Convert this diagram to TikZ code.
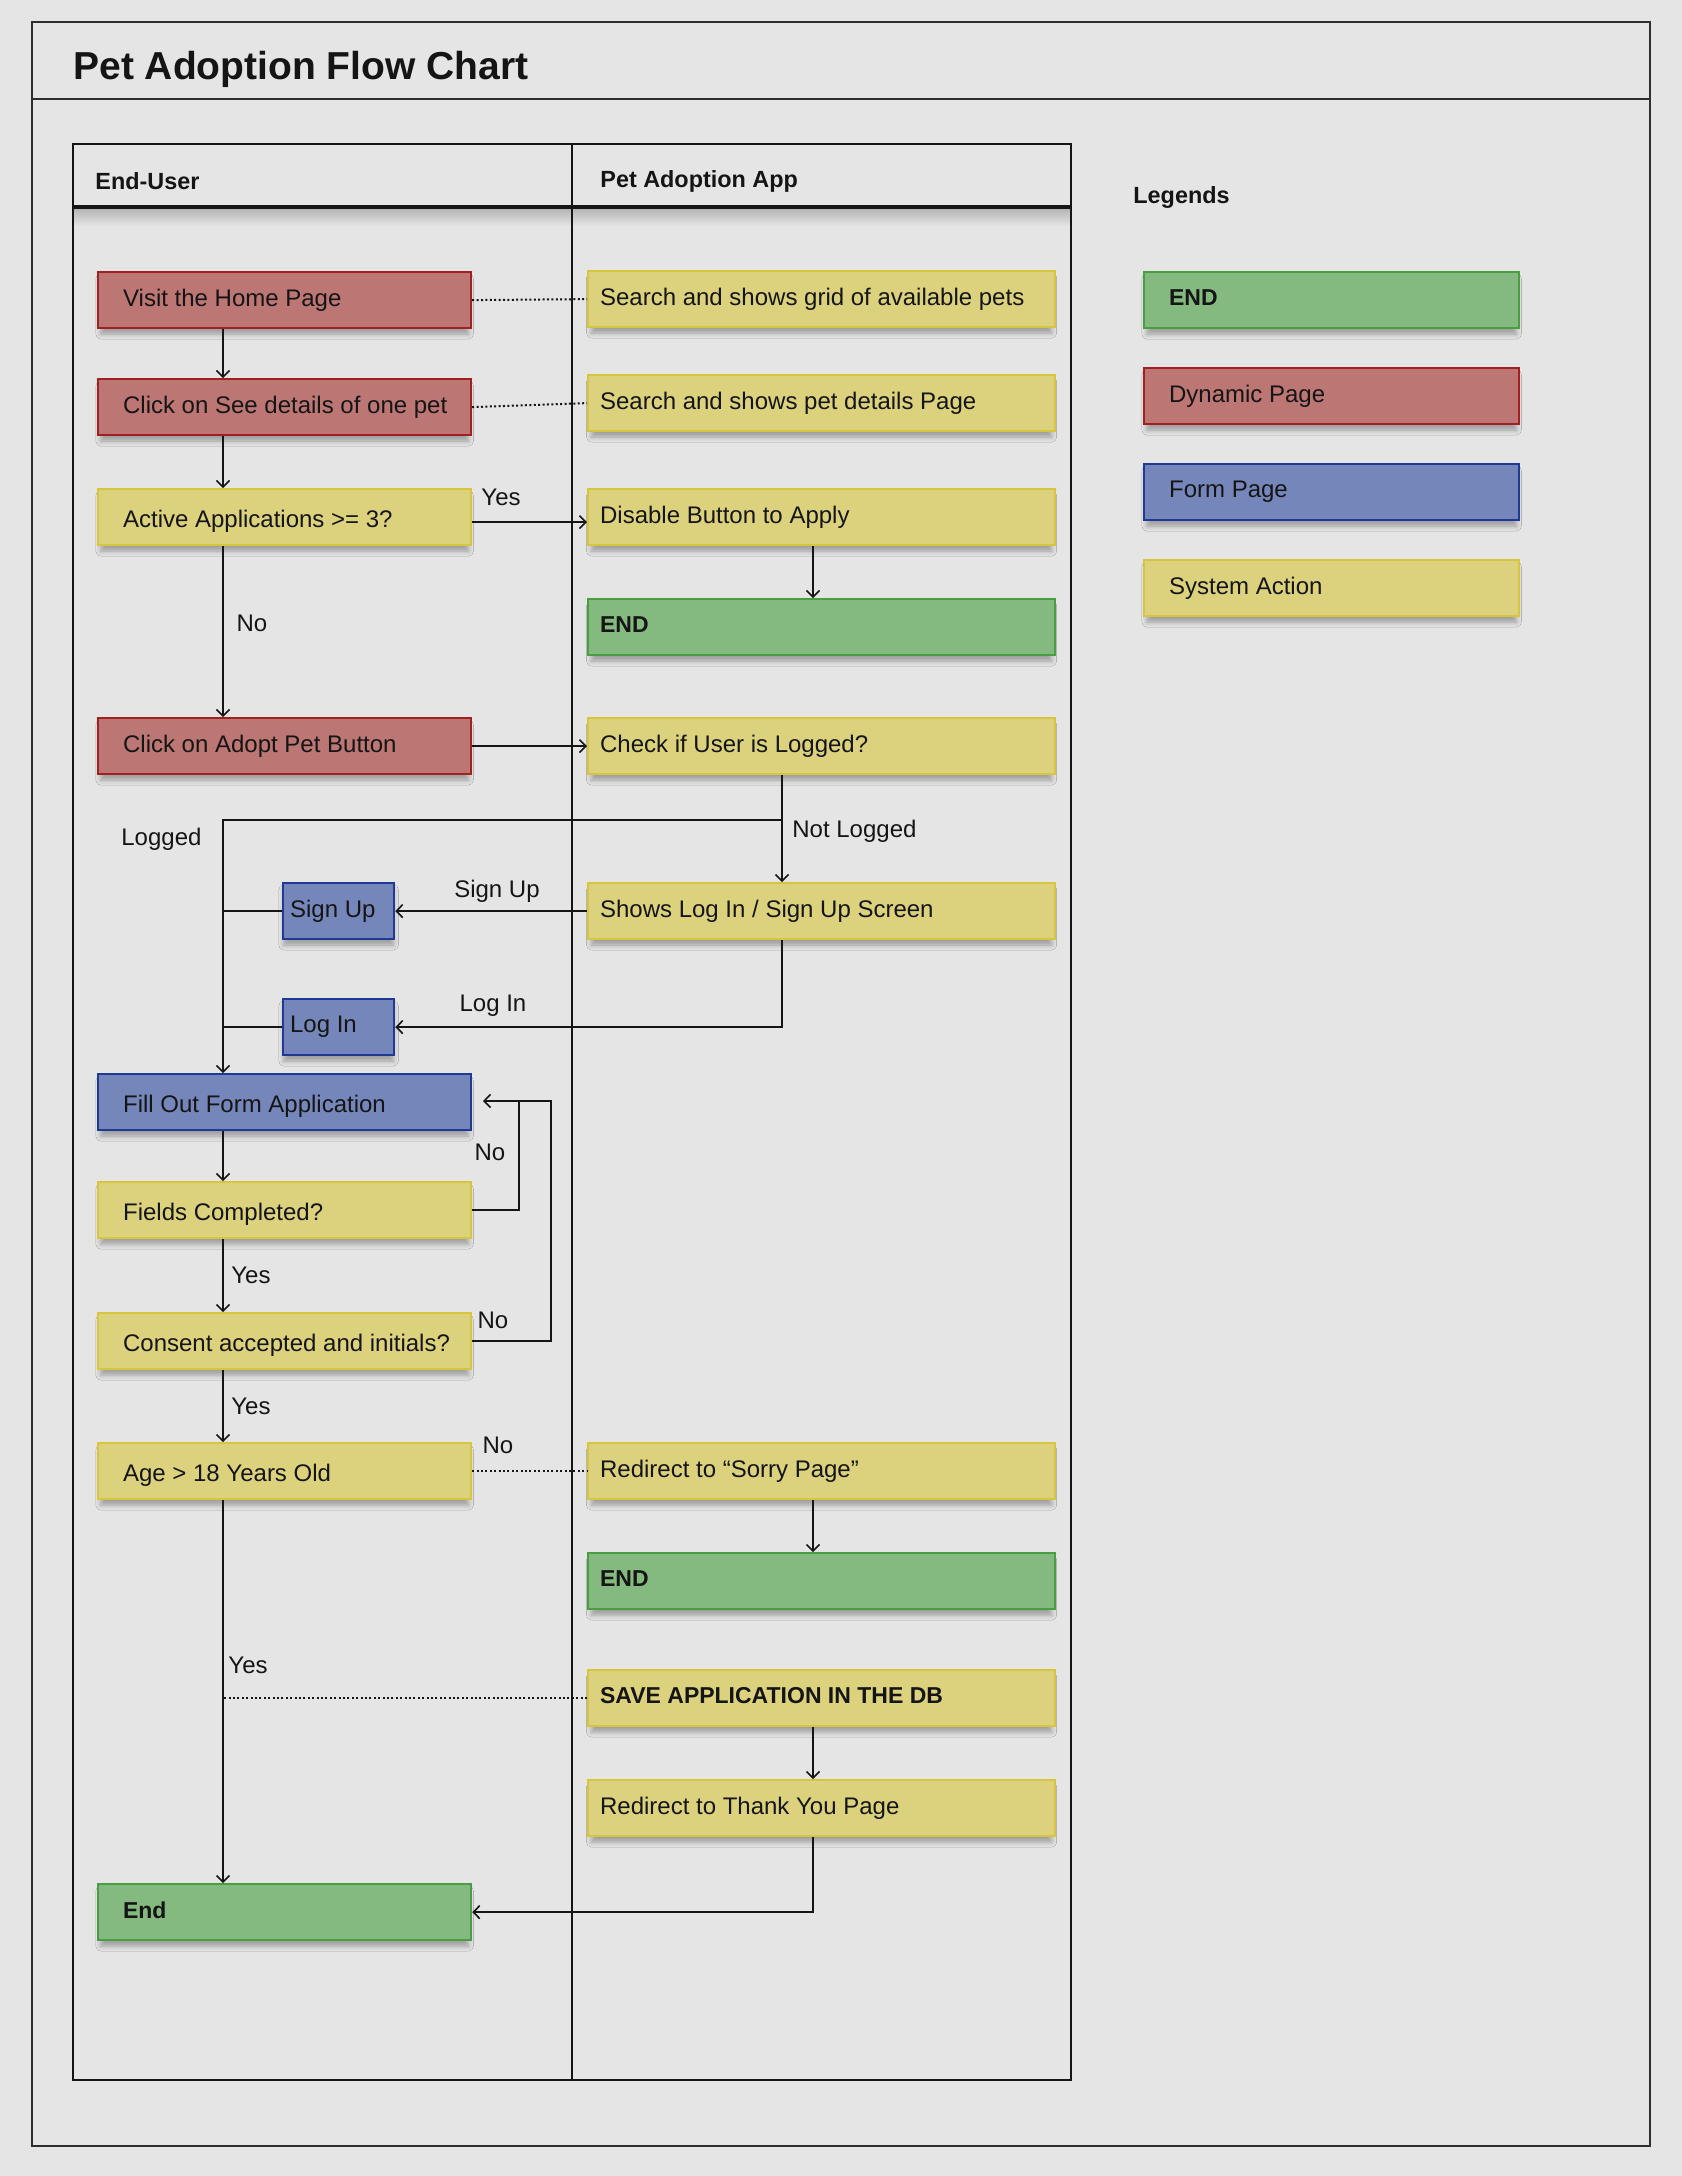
\documentclass[tikz,border=0pt]{standalone}
\usepackage{fontspec}
\setmainfont{Liberation Sans}
\usetikzlibrary{arrows.meta,shadows.blur,calc}

\definecolor{bg}{HTML}{E5E5E5}
\definecolor{ink}{HTML}{151515}
\definecolor{framec}{HTML}{2E2E2E}
\definecolor{redfill}{HTML}{BC7673}
\definecolor{redline}{HTML}{A41F1F}
\definecolor{yelfill}{HTML}{DCD27E}
\definecolor{yelline}{HTML}{D8C53E}
\definecolor{grnfill}{HTML}{84BA80}
\definecolor{grnline}{HTML}{4A9E42}
\definecolor{blufill}{HTML}{7587BA}
\definecolor{bluline}{HTML}{1F3A96}

\newcommand\fBody{\fontsize{12}{14}\selectfont}
\newcommand\fBold{\fontsize{11.5}{14}\selectfont\bfseries}
\newcommand\fHead{\fontsize{11.7}{14}\selectfont\bfseries}
\newcommand\fTitle{\fontsize{19.5}{23}\selectfont\bfseries}

\tikzset{
  basebox/.style={draw, line width=1.1pt, anchor=north west, minimum height=28pt,
    inner ysep=0pt, font=\fBody, text=ink,
    blur shadow={shadow xshift=0pt, shadow yshift=-3.2pt, shadow scale=0.985,
      shadow blur radius=2.6pt, shadow opacity=32}},
  lanebox/.style={basebox, inner xsep=12.5pt, text height=11.2pt, text depth=1pt,
    execute at begin node={\hbox to 161.5pt\bgroup},
    execute at end node={\hss\egroup}},
  midtext/.style={text height=8.8pt, text depth=2.6pt},
  appbox/.style={basebox, inner xsep=6pt,
    execute at begin node={\hbox to 221.5pt\bgroup\vphantom{Ag}},
    execute at end node={\hss\egroup}},
  keybox/.style={basebox, inner xsep=12.5pt,
    execute at begin node={\hbox to 162.5pt\bgroup\vphantom{Ag}},
    execute at end node={\hss\egroup}},
  smallbox/.style={basebox, inner xsep=3.5pt,
    execute at begin node={\hbox to 48.5pt\bgroup\vphantom{Ag}},
    execute at end node={\hss\egroup}},
  dyn/.style={fill=redfill, draw=redline},
  sys/.style={fill=yelfill, draw=yelline},
  fin/.style={fill=grnfill, draw=grnline, font=\fBold},
  form/.style={fill=blufill, draw=bluline},
  conn/.style={draw=ink, line width=0.8pt},
  arr/.style={conn, -{Straight Barb[length=3.2pt,width=6.5pt,line width=0.8pt]}},
  dots/.style={draw=ink, line width=1pt, dash pattern=on 1pt off 1.2pt},
  lbl/.style={font=\fBody, text=ink, inner sep=0pt},
}

\begin{document}
\begin{tikzpicture}[x=0.5pt, y=-0.5pt]
\useasboundingbox (0,0) rectangle (1682,2176);
\fill[bg] (0,0) rectangle (1682,2176);

% outer frame and title bar
\draw[framec, line width=1.1pt] (32,22) rectangle (1650,2146);
\draw[framec, line width=1.1pt] (32,99) -- (1650,99);
\node[anchor=base west, font=\fTitle, text=ink, inner sep=0pt] (title) at (73,79) {Pet Adoption Flow Chart};

% swimlanes
\shade[top color=black!22!bg, bottom color=bg] (74,208) rectangle (1070,226);
\draw[ink, line width=0.9pt] (73,144) rectangle (1071,2080);
\draw[ink, line width=0.9pt] (572,144) -- (572,2080);
\draw[ink, line width=2.2pt] (73,207) -- (1071,207);
\node[anchor=west, font=\fHead, text=ink, inner sep=0pt] (laneA) at (95,181) {End-User};
\node[anchor=west, font=\fHead, text=ink, inner sep=0pt] (laneB) at (600,181) {Pet Adoption App};

% end-user lane
\node[lanebox, dyn, midtext]  (home)  at (97,271)  {Visit the Home Page};
\node[lanebox, dyn, midtext]  (det)   at (97,378)  {Click on See details of one pet};
\node[lanebox, sys]  (act)   at (97,488)  {Active Applications >= 3?};
\node[lanebox, dyn, midtext]  (adopt) at (97,717)  {Click on Adopt Pet Button};
\node[smallbox, form] (su)   at (282,882) {Sign Up};
\node[smallbox, form] (li)   at (282,998) {Log In};
\node[lanebox, form] (fill)  at (97,1073) {Fill Out Form Application};
\node[lanebox, sys]  (fld)   at (97,1181) {Fields Completed?};
\node[lanebox, sys]  (cons)  at (97,1312) {Consent accepted and initials?};
\node[lanebox, sys]  (age)   at (97,1442) {Age > 18 Years Old};
\node[lanebox, fin, midtext]  (endL)  at (97,1883) {End};

% app lane
\node[appbox, sys] (grid)  at (587,270)  {Search and shows grid of available pets};
\node[appbox, sys] (petd)  at (587,374)  {Search and shows pet details Page};
\node[appbox, sys] (dis)   at (587,488)  {Disable Button to Apply};
\node[appbox, fin] (end1)  at (587,598)  {END};
\node[appbox, sys] (chk)   at (587,717)  {Check if User is Logged?};
\node[appbox, sys] (shows) at (587,882)  {Shows Log In / Sign Up Screen};
\node[appbox, sys] (sorry) at (587,1442) {Redirect to “Sorry Page”};
\node[appbox, fin] (end2)  at (587,1552) {END};
\node[appbox, sys, font=\fBold] (save) at (587,1669) {SAVE APPLICATION IN THE DB};
\node[appbox, sys] (thx)   at (587,1779) {Redirect to Thank You Page};

% legend
\node[anchor=west, font=\fHead, text=ink, inner sep=0pt] (legend) at (1133,197) {Legends};
\node[keybox, fin]  (kEnd)  at (1143,271) {END};
\node[keybox, dyn]  (kDyn)  at (1143,367) {Dynamic Page};
\node[keybox, form] (kForm) at (1143,463) {Form Page};
\node[keybox, sys]  (kSys)  at (1143,559) {System Action};

% routing columns
\coordinate (sp) at (223,0);
\coordinate (rx) at (813,0);
\coordinate (nx) at (782,0);
\coordinate (br) at (782,820);
\coordinate (la) at (519,1101);
\coordinate (lb) at (551,1101);
\coordinate (lt) at (483,1101);

% connectors
\draw[dots] (home.east) -- (grid.west);
\draw[dots] (det.east) -- (petd.west);
\draw[arr] (home.south -| sp) -- (det.north -| sp);
\draw[arr] (det.south -| sp) -- (act.north -| sp);
\draw[arr] ([yshift=-2.5pt]act.east) -- ([yshift=-2.5pt]dis.west);
\draw[arr] (dis.south -| rx) -- (end1.north -| rx);
\draw[arr] (act.south -| sp) -- (adopt.north -| sp);
\draw[arr] (adopt.east) -- (chk.west);
\draw[arr] (chk.south -| nx) -- (shows.north -| nx);
\draw[arr] (br) -- (br -| sp) -- (fill.north -| sp);
\draw[arr] (shows.west) -- (su.east);
\draw[conn] (su.west) -- (su.west -| sp);
\draw[arr] (shows.south -| nx) |- (li.east);
\draw[conn] (li.west) -- (li.west -| sp);
\draw[arr] (fill.south -| sp) -- (fld.north -| sp);
\draw[arr] (fld.east) -| (la) -- (lt);
\draw[conn] (cons.east) -| (lb) -- (la);
\draw[arr] (fld.south -| sp) -- (cons.north -| sp);
\draw[arr] (cons.south -| sp) -- (age.north -| sp);
\draw[dots] (age.east) -- (sorry.west);
\draw[arr] (sorry.south -| rx) -- (end2.north -| rx);
\draw[arr] (age.south -| sp) -- (endL.north -| sp);
\draw[dots] (save.west) -- (save.west -| sp);
\draw[arr] (save.south -| rx) -- (thx.north -| rx);
\draw[arr] (thx.south -| rx) |- (endL.east);

% connector labels
\node[lbl] (yA) at (501,497)  {Yes};
\node[lbl] (nA) at (252,623)  {No};
\node[lbl, anchor=west] (nLog) at (792,831) {Not Logged};
\node[lbl, anchor=west] (yLog) at (121,839) {Logged};
\node[lbl] (sLbl) at (497,891) {Sign Up};
\node[lbl] (lLbl) at (493,1006) {Log In};
\node[lbl] (nB) at (490,1152) {No};
\node[lbl] (yB) at (251,1275) {Yes};
\node[lbl] (nC) at (493,1320) {No};
\node[lbl] (yC) at (251,1406) {Yes};
\node[lbl] (nD) at (498,1445) {No};
\node[lbl] (yD) at (248,1665) {Yes};
\end{tikzpicture}
\end{document}
